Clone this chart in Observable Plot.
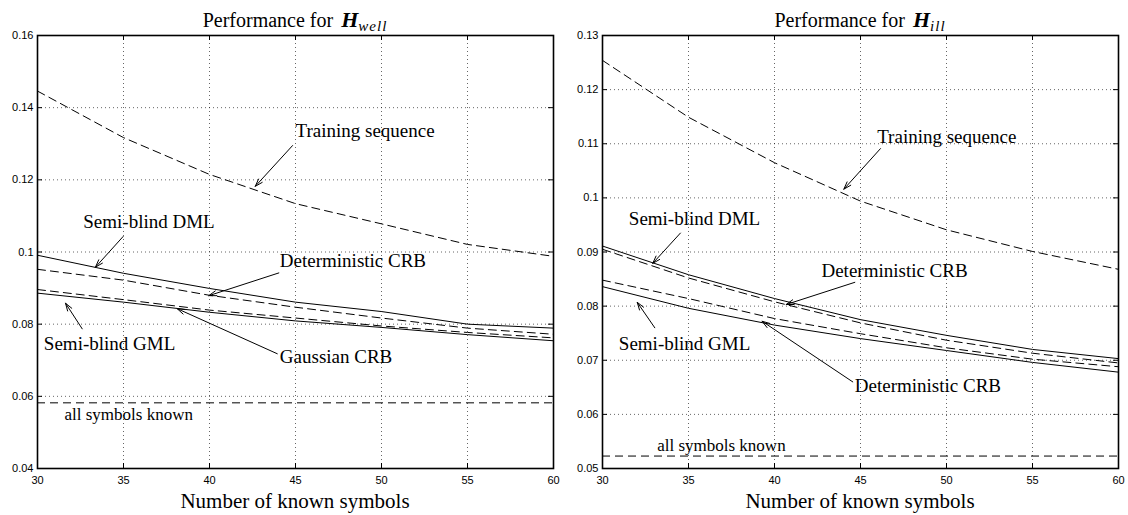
<!DOCTYPE html>
<html><head><meta charset="utf-8">
<script src="https://cdn.jsdelivr.net/npm/d3@7"></script>
<script src="https://cdn.jsdelivr.net/npm/@observablehq/plot@0.6"></script>
<style>
body{margin:0;background:#fff;}
#wrap{display:flex;width:1128px;height:515px;overflow:hidden;}
.panel{width:564px;}
.title{height:32px;line-height:40px;font-family:"Liberation Serif",serif;font-size:20px;text-align:center;color:#000;white-space:nowrap;overflow:visible;}
.title .h{font-size:22px;font-weight:bold;font-style:italic;margin-left:3px;}
.title sub{font-size:15px;font-style:italic;vertical-align:-4px;line-height:0;letter-spacing:1px;}
.xlabel{height:30px;line-height:32px;font-family:"Liberation Serif",serif;font-size:21px;text-align:center;color:#000;white-space:nowrap;}
svg{display:block;}
</style></head><body>
<div id="wrap"></div>
<script>
// ---- data ----
const xs = [30, 35, 40, 45, 50, 55, 60];
const xTicks = [30, 35, 40, 45, 50, 55, 60];
const yTicksWell = [0.04, 0.06, 0.08, 0.1, 0.12, 0.14, 0.16];
const yTicksIll = [0.05, 0.06, 0.07, 0.08, 0.09, 0.1, 0.11, 0.12, 0.13];

// H_well
const trainWell = [0.1446, 0.1317, 0.1215, 0.1134, 0.1078, 0.1021, 0.0988];
const dmlWell   = [0.0991, 0.0941, 0.0899, 0.0861, 0.0835, 0.0800, 0.0789];
const detWell   = [0.0952, 0.0922, 0.0880, 0.0847, 0.0817, 0.0789, 0.0772];
const gaussWell = [0.0896, 0.0868, 0.0839, 0.0817, 0.0795, 0.0777, 0.0762];
const gmlWell   = [0.0886, 0.0861, 0.0833, 0.0809, 0.0791, 0.0771, 0.0754];
const knownWell = 0.0582;

// H_ill
const trainIll = [0.1254, 0.1149, 0.1065, 0.0994, 0.0941, 0.0901, 0.0868];
const dmlIll   = [0.0911, 0.0858, 0.0814, 0.0775, 0.0746, 0.0720, 0.0703];
const detIll   = [0.0905, 0.0852, 0.0808, 0.0769, 0.0737, 0.0713, 0.0695];
const det2Ill  = [0.0848, 0.0814, 0.0777, 0.0749, 0.0723, 0.0702, 0.0688];
const gmlIll   = [0.0836, 0.0796, 0.0765, 0.0740, 0.0718, 0.0696, 0.0678];
const knownIll = 0.0523;

// annotations (data coordinates)
const labelsWell = ["Training sequence", "Semi-blind DML", "Deterministic CRB", "Semi-blind GML", "Gaussian CRB", "all symbols known"];
const labelXWell = [45.0, 32.66, 44.09, 30.37, 44.09, 31.57];
const labelYWell = [0.1336, 0.1083, 0.0975, 0.0744, 0.0708, 0.0550];
const arrowFromXWell = [44.83, 34.98, 44.03, 32.6, 43.94];
const arrowFromYWell = [0.1295, 0.1043, 0.0942, 0.0787, 0.0718];
const arrowToXWell = [42.66, 33.37, 39.96, 31.63, 38.12];
const arrowToYWell = [0.1182, 0.0958, 0.0879, 0.0858, 0.0843];

const labelsIll = ["Training sequence", "Semi-blind DML", "Deterministic CRB", "Semi-blind GML", "Deterministic CRB", "all symbols known"];
const labelXIll = [45.97, 31.53, 42.73, 30.95, 44.67, 33.18];
const labelYIll = [0.1112, 0.0962, 0.0865, 0.0730, 0.0653, 0.0543];
const arrowFromXIll = [46.16, 34.53, 44.67, 33.04, 44.55];
const arrowFromYIll = [0.1091, 0.0935, 0.0844, 0.0760, 0.0660];
const arrowToXIll = [44.03, 32.92, 40.68, 32.02, 39.28];
const arrowToYIll = [0.1016, 0.0879, 0.0803, 0.0807, 0.0772];

// ---- drawing ----
const W = 564, H = 453, MT = 3, MB = 17;
const serif = "Liberation Serif";

function panel({sub, yDomain, yTicks, solid, dashed, known, labels, lx, ly, fx, fy, tx, ty, ml, mr}) {
  const innerH = H - MT - MB, innerW = W - ml - mr;
  const solidRows = solid.flatMap((arr, k) => xs.map((x, i) => ({x, y: arr[i], k})));
  const dashedRows = dashed.flatMap((arr, k) => xs.map((x, i) => ({x, y: arr[i], k})));
  const labelRows = labels.map((t, i) => ({t, x: lx[i], y: ly[i], small: t === "all symbols known"}));
  const arrowRows = fx.map((_, i) => ({x1: fx[i], y1: fy[i], x2: tx[i], y2: ty[i]}));
  const fmt = d => String(+d.toFixed(2));
  const svg = Plot.plot({
    width: W, height: H,
    marginLeft: ml, marginRight: mr, marginTop: MT, marginBottom: MB,
    style: {fontFamily: "Liberation Sans", fontSize: "11px", color: "#000", background: "#fff", overflow: "visible"},
    x: {domain: [30, 60], ticks: xTicks},
    y: {domain: yDomain, ticks: yTicks},
    marks: [
      Plot.gridX(xTicks, {stroke: "#000", strokeOpacity: 0.6, strokeDasharray: "1,3"}),
      Plot.gridY(yTicks, {stroke: "#000", strokeOpacity: 0.6, strokeDasharray: "1,3"}),
      Plot.tickX(xTicks, {x: d => d, insetTop: innerH - 5, stroke: "#000"}),
      Plot.tickX(xTicks, {x: d => d, insetBottom: innerH - 5, stroke: "#000"}),
      Plot.tickY(yTicks, {y: d => d, insetLeft: innerW - 5, stroke: "#000"}),
      Plot.tickY(yTicks, {y: d => d, insetRight: innerW - 5, stroke: "#000"}),
      Plot.axisX({ticks: xTicks, tickSize: 0, tickPadding: 8, label: null}),
      Plot.axisY({ticks: yTicks, tickSize: 0, tickPadding: 4, tickFormat: fmt, label: null}),
      Plot.ruleY([known], {x1: 30, x2: 60, stroke: "#000", strokeWidth: 1, strokeDasharray: "8,5"}),
      Plot.line(dashedRows, {x: "x", y: "y", z: "k", stroke: "#000", strokeWidth: 1, strokeDasharray: "8,5"}),
      Plot.line(solidRows, {x: "x", y: "y", z: "k", stroke: "#000", strokeWidth: 1}),
      Plot.arrow(arrowRows, {x1: "x1", y1: "y1", x2: "x2", y2: "y2", stroke: "#000", strokeWidth: 1, headLength: 12, headAngle: 36}),
      Plot.text(labelRows.filter(d => !d.small), {x: "x", y: "y", text: "t", textAnchor: "start", fontFamily: serif, fontSize: 19, fill: "#000"}),
      Plot.text(labelRows.filter(d => d.small), {x: "x", y: "y", text: "t", textAnchor: "start", fontFamily: serif, fontSize: 17, fill: "#000"}),
      Plot.frame({stroke: "#000", strokeWidth: 1.6})
    ]
  });
  const div = document.createElement("div");
  div.className = "panel";
  const t = document.createElement("div");
  t.className = "title";
  t.style.marginLeft = ml + "px"; t.style.width = innerW + "px";
  t.innerHTML = `Performance for <span class="h">H</span><sub>${sub}</sub>`;
  const xl = document.createElement("div");
  xl.className = "xlabel";
  xl.style.marginLeft = ml + "px"; xl.style.width = innerW + "px";
  xl.textContent = "Number of known symbols";
  div.append(t, svg, xl);
  return div;
}

const wrap = document.getElementById("wrap");
wrap.append(panel({
  sub: "well", yDomain: [0.04, 0.16], yTicks: yTicksWell,
  solid: [dmlWell, gmlWell], dashed: [trainWell, detWell, gaussWell], known: knownWell,
  labels: labelsWell, lx: labelXWell, ly: labelYWell,
  fx: arrowFromXWell, fy: arrowFromYWell, tx: arrowToXWell, ty: arrowToYWell,
  ml: 37, mr: 11
}));
wrap.append(panel({
  sub: "ill", yDomain: [0.05, 0.13], yTicks: yTicksIll,
  solid: [dmlIll, gmlIll], dashed: [trainIll, detIll, det2Ill], known: knownIll,
  labels: labelsIll, lx: labelXIll, ly: labelYIll,
  fx: arrowFromXIll, fy: arrowFromYIll, tx: arrowToXIll, ty: arrowToYIll,
  ml: 38, mr: 10
}));
</script>
</body></html>
